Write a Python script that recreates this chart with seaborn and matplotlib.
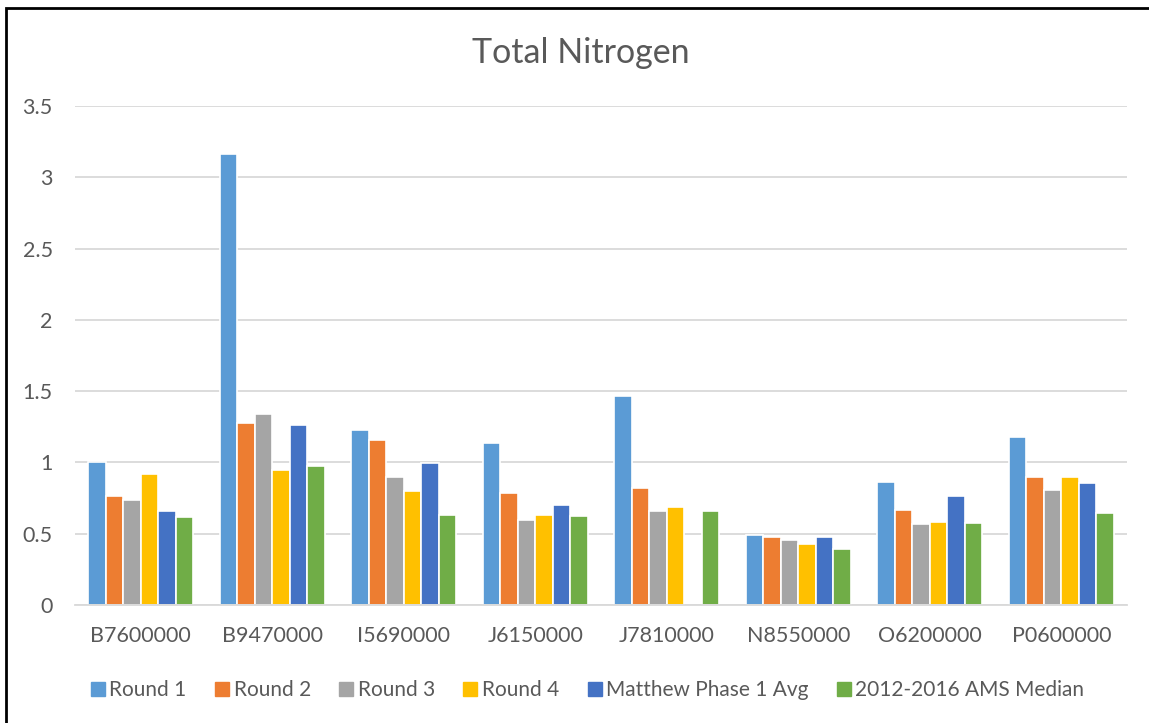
import numpy as np
import pandas as pd
import matplotlib
matplotlib.use("Agg")
import matplotlib.pyplot as plt
from matplotlib.patches import Rectangle
from matplotlib.lines import Line2D
import seaborn as sns

sites = ["B7600000", "B9470000", "I5690000", "J6150000", "J7810000", "N8550000", "O6200000", "P0600000"]
series = ["Round 1", "Round 2", "Round 3", "Round 4", "Matthew Phase 1 Avg", "2012-2016 AMS Median"]
round1 = [1.00, 3.16, 1.225, 1.136, 1.466, 0.489, 0.865, 1.178]
round2 = [0.764, 1.278, 1.157, 0.785, 0.818, 0.477, 0.668, 0.895]
round3 = [0.734, 1.337, 0.898, 0.596, 0.657, 0.456, 0.568, 0.806]
round4 = [0.917, 0.948, 0.800, 0.633, 0.685, 0.428, 0.584, 0.895]
matthew = [0.659, 1.260, 0.998, 0.701, np.nan, 0.477, 0.762, 0.855]
ams = [0.617, 0.977, 0.633, 0.626, 0.657, 0.395, 0.577, 0.645]
colors = ["#5B9BD5", "#ED7D31", "#A5A5A5", "#FFC000", "#4472C4", "#70AD47"]

vals = [round1, round2, round3, round4, matthew, ams]
rows = []
for s, v in zip(series, vals):
    for site, x in zip(sites, v):
        rows.append({"Site": site, "Series": s, "Value": x})
df = pd.DataFrame(rows)

sns.set_theme(style="white")
plt.rcParams["font.family"] = ["Lato", "DejaVu Sans"]
text_color = "#595959"

fig = plt.figure(figsize=(11.49, 7.23), dpi=100)
ax = fig.add_axes([75/1149, 1-605/723, (1127-75)/1149, (605-106)/723])

sns.barplot(data=df, x="Site", y="Value", hue="Series", order=sites, hue_order=series,
            palette=colors, width=0.8, edgecolor="white", linewidth=1.2,
            saturation=1, ax=ax, legend=False)

ax.set_ylim(0, 3.5)
ax.set_yticks([0, 0.5, 1, 1.5, 2, 2.5, 3, 3.5])
ax.set_yticklabels(["0", "0.5", "1", "1.5", "2", "2.5", "3", "3.5"])
ax.yaxis.grid(True, color="#d9d9d9", linewidth=1.3)
ax.set_axisbelow(True)
for sp in ["top", "right", "left"]:
    ax.spines[sp].set_visible(False)
ax.spines["bottom"].set_color("#d9d9d9")
ax.spines["bottom"].set_linewidth(1.3)
ax.tick_params(axis="both", length=0, labelsize=15.5, colors=text_color)
ax.tick_params(axis="y", pad=16)
ax.tick_params(axis="x", pad=15)
ax.set_xlabel("")
ax.set_ylabel("")
ax.set_xlim(-0.5, len(sites) - 0.5)

fig.text(581/1149, 1-53/723, "Total Nitrogen", ha="center", va="center",
         fontsize=24.5, color=text_color)

handles = [Line2D([0], [0], marker="s", linestyle="", markersize=10,
                  markerfacecolor=c, markeredgecolor=c) for c in colors]
fig.legend(handles, series, loc="center", bbox_to_anchor=(587/1149, 1-690/723),
           ncol=6, frameon=False, fontsize=15, handletextpad=0.15, columnspacing=1.3,
           labelcolor=text_color, handlelength=0.8)

fig.patches.append(Rectangle((6/1149, -0.1), 1.2, 1-8/723+0.1, transform=fig.transFigure,
                             fill=False, edgecolor="black", linewidth=2, zorder=10))

fig.savefig("out.png", dpi=100)
